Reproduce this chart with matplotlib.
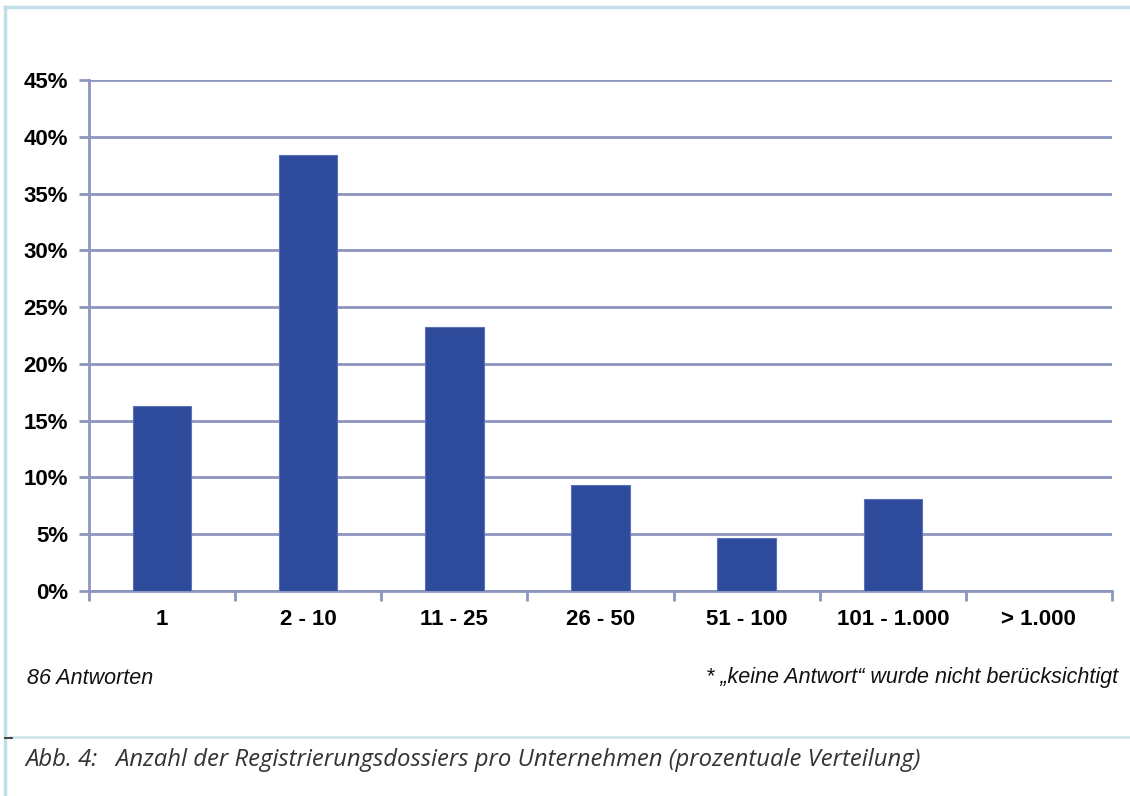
import matplotlib
matplotlib.use("Agg")
import matplotlib.pyplot as plt
from matplotlib.ticker import FuncFormatter
from matplotlib.lines import Line2D

categories = ["1", "2 - 10", "11 - 25", "26 - 50", "51 - 100", "101 - 1.000", "> 1.000"]
values = [16.28, 38.37, 23.26, 9.30, 4.65, 8.14, 0.0]
yticks = [0, 5, 10, 15, 20, 25, 30, 35, 40, 45]

bar_color = "#2E4A9A"
grid_color = "#8C96BE"
frame_color = "#C2DEE8"

fig = plt.figure(figsize=(11.3, 7.96), dpi=100)
ax = fig.add_axes([89/1130, 1-591/796, (1112-89)/1130, (591-80)/796])

x = list(range(len(categories)))
ax.bar(x, values, width=0.4, color=bar_color, edgecolor="#5A72B8", linewidth=0.8, zorder=3)

ax.set_xlim(-0.5, len(categories) - 0.5)
ax.set_ylim(0, 45)
ax.set_yticks(yticks)
ax.yaxis.set_major_formatter(FuncFormatter(lambda v, p: f"{int(v)}%"))
ax.grid(axis="y", color=grid_color, linewidth=2, zorder=0)
ax.set_xticks([i - 0.5 for i in range(len(categories) + 1)], minor=False)
ax.set_xticklabels([])
ax.set_xticks(x, minor=True)
ax.set_xticklabels(categories, minor=True)
ax.tick_params(axis="x", which="major", length=7, width=2, color=grid_color, direction="out")
ax.tick_params(axis="x", which="minor", length=0, pad=13)
ax.tick_params(axis="y", length=7, width=2, color=grid_color, pad=8)
for lab in ax.get_xticklabels(minor=True) + ax.get_yticklabels():
    lab.set_fontfamily("Liberation Sans")
    lab.set_fontweight("bold")
    lab.set_fontsize(16)
for s in ["top", "right"]:
    ax.spines[s].set_visible(False)
for s in ["left", "bottom"]:
    ax.spines[s].set_color(grid_color)
    ax.spines[s].set_linewidth(2)

fig.text(27/1130, 1-678/796, "86 Antworten", fontfamily="Liberation Sans", fontstyle="italic",
         fontsize=15.5, va="center", ha="left", color="#111111")
fig.text(1118/1130, 1-678/796, "* \u201ekeine Antwort\u201c wurde nicht berücksichtigt",
         fontfamily="Liberation Sans", fontstyle="italic", fontsize=15.5, va="center", ha="right", color="#111111")
fig.text(25/1130, 1-760/796, "Abb. 4:   Anzahl der Registrierungsdossiers pro Unternehmen (prozentuale Verteilung)",
         fontfamily="Open Sans", fontstyle="italic", fontsize=17.2, va="center", ha="left", color="#333333")

# frame lines
fig.add_artist(Line2D([5/1130, 5/1130], [0, 1-7/796], color=frame_color, linewidth=2.5, transform=fig.transFigure))
fig.add_artist(Line2D([5/1130, 1], [1-7/796, 1-7/796], color=frame_color, linewidth=2.5, transform=fig.transFigure))
fig.add_artist(Line2D([10/1130, 1], [1-737/796, 1-737/796], color="#D2E6EE", linewidth=2, transform=fig.transFigure))
fig.add_artist(Line2D([5/1130, 12/1130], [1-738/796, 1-738/796], color="#222222", linewidth=1.2, transform=fig.transFigure))

fig.savefig("out.png", dpi=100)
